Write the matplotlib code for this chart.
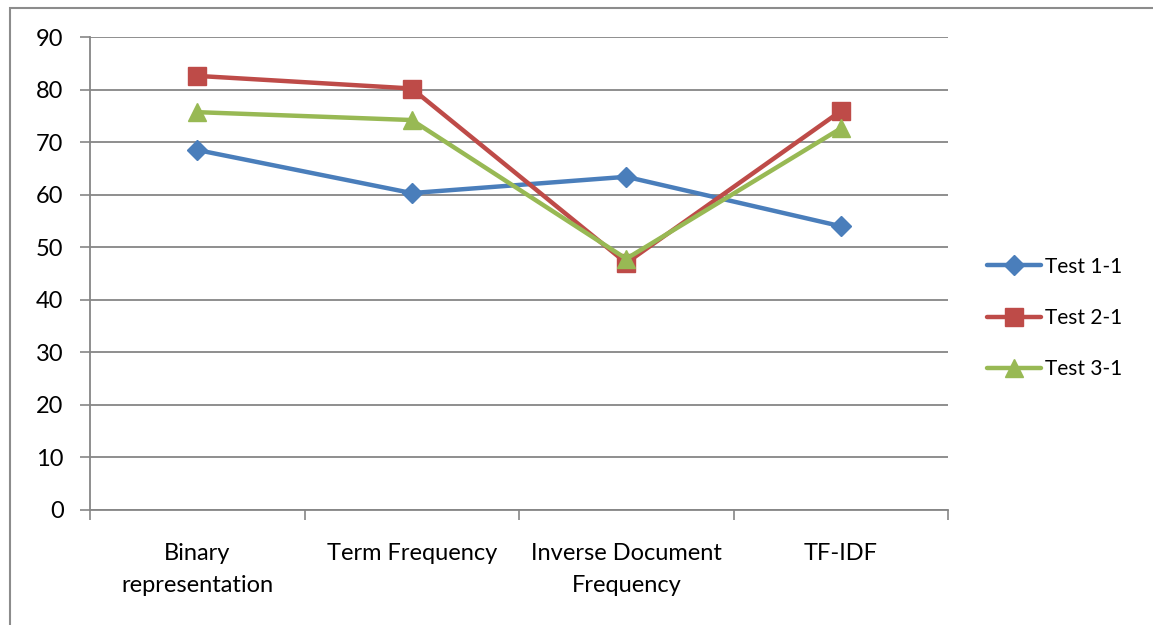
import matplotlib
matplotlib.use("Agg")
import matplotlib.pyplot as plt
from matplotlib.patches import Rectangle

categories = ["Binary\nrepresentation", "Term Frequency", "Inverse Document\nFrequency", "TF-IDF"]
test_1_1 = [68.5, 60.3, 63.4, 54.0]
test_2_1 = [82.6, 80.2, 47.0, 75.9]
test_3_1 = [75.7, 74.2, 47.8, 72.6]
series_names = ["Test 1-1", "Test 2-1", "Test 3-1"]
y_ticks = [0, 10, 20, 30, 40, 50, 60, 70, 80, 90]

colors = ["#4A7EBB", "#BE4B48", "#98B954"]
markers = ["D", "s", "^"]
msizes = [10.5, 13, 13]

plt.rcParams["font.family"] = ["Lato", "DejaVu Sans"]

fig = plt.figure(figsize=(11.53, 6.25), dpi=100)
ax = fig.add_axes([90 / 1153, 1 - 510 / 625, (948 - 90) / 1153, (510 - 37) / 625])

# outer chart frame
fig.patches.append(Rectangle((10 / 1153, -0.05), 1.2, 1 - 8 / 625 + 0.05,
                             transform=fig.transFigure, fill=False,
                             edgecolor="#8C8C8C", linewidth=1.5))

x = list(range(len(categories)))
for vals, name, c, m, ms in zip([test_1_1, test_2_1, test_3_1], series_names, colors, markers, msizes):
    ax.plot(x, vals, color=c, linewidth=3.2, marker=m, markersize=ms,
            markeredgecolor=c, label=name, solid_capstyle="round", solid_joinstyle="round", zorder=3)

ax.set_xlim(-0.5, len(categories) - 0.5)
ax.set_ylim(0, 90)
ax.set_yticks(y_ticks)
ax.set_yticklabels([str(v) for v in y_ticks])
ax.yaxis.grid(True, color="#868686", linewidth=1.3)
ax.set_axisbelow(True)

ax.set_xticks(x)
ax.set_xticklabels(categories, linespacing=1.6)
ax.set_xticks([i - 0.5 for i in range(len(categories) + 1)], minor=True)
ax.tick_params(axis="x", which="major", length=0, pad=24, labelsize=17, colors="black")
ax.tick_params(axis="x", which="minor", length=7, width=1.2, color="#868686")
ax.tick_params(axis="y", length=7, width=1.2, color="#868686", pad=12, labelsize=17)

for side in ["top", "right"]:
    ax.spines[side].set_visible(False)
for side in ["left", "bottom"]:
    ax.spines[side].set_color("#868686")
    ax.spines[side].set_linewidth(1.3)

leg = fig.legend(loc="center left", bbox_to_anchor=(987 / 1153, 1 - 318 / 625),
                 frameon=False, fontsize=15, handlelength=2.6, handletextpad=0.2,
                 labelspacing=1.5, borderpad=0, borderaxespad=0)

fig.savefig("out.png", dpi=100)
